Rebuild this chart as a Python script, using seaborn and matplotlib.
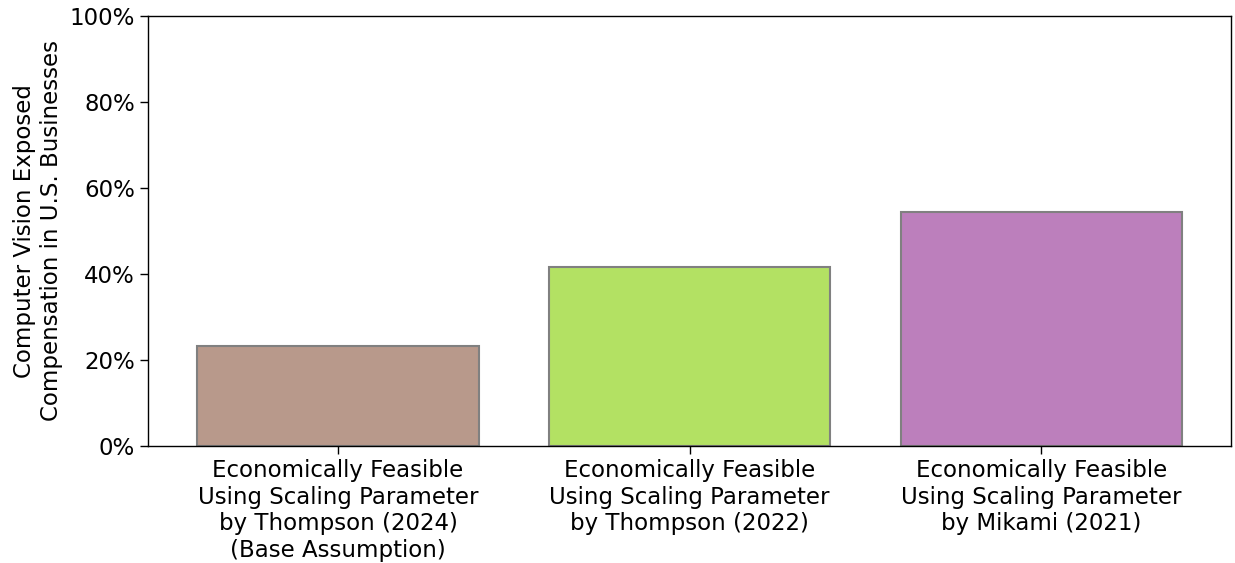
import matplotlib
matplotlib.use("Agg")
import matplotlib.pyplot as plt
import matplotlib.ticker as mticker
import seaborn as sns
import pandas as pd

# values (share of compensation, %)
scenarios = [
    "Economically Feasible\nUsing Scaling Parameter\nby Thompson (2024)\n(Base Assumption)",
    "Economically Feasible\nUsing Scaling Parameter\nby Thompson (2022)",
    "Economically Feasible\nUsing Scaling Parameter\nby Mikami (2021)",
]
exposed_share = [23.3, 41.6, 54.4]
bar_colors = ["#b8998b", "#b3e163", "#bc7fbc"]

df = pd.DataFrame({"Scenario": scenarios, "Share": exposed_share})

sns.set_style("ticks")
plt.rcParams["font.family"] = ["DejaVu Sans"]
plt.rcParams.update({
    "text.color": "black", "axes.labelcolor": "black",
    "xtick.color": "black", "ytick.color": "black", "axes.edgecolor": "black",
})

fig, ax = plt.subplots(figsize=(12.35, 5.63), dpi=100)
sns.barplot(
    data=df, x="Scenario", y="Share", hue="Scenario",
    palette=bar_colors, legend=False, width=0.8,
    edgecolor="grey", linewidth=1.5, saturation=1, ax=ax,
)

ax.set_ylim(0, 100)
ax.set_xlim(-0.54, 2.54)
ax.yaxis.set_major_locator(mticker.MultipleLocator(20))
ax.yaxis.set_major_formatter(mticker.PercentFormatter(decimals=0))
ax.set_xlabel("")
ax.set_ylabel("Computer Vision Exposed\nCompensation in U.S. Businesses", fontsize=16.5, labelpad=5)
ax.tick_params(axis="both", labelsize=16.5, length=6, width=1.0)
for side in ["top", "right", "left", "bottom"]:
    ax.spines[side].set_visible(True)
    ax.spines[side].set_linewidth(1.0)

fig.subplots_adjust(left=0.12, right=0.997, top=0.972, bottom=0.208)
fig.savefig("out.png", dpi=100)
